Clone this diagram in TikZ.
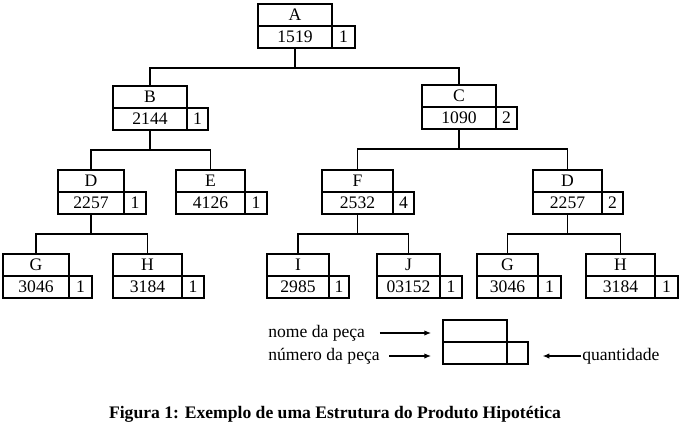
\documentclass[tikz,border=0pt]{standalone}
\usepackage{fontspec}
\setmainfont{Liberation Serif}
\usetikzlibrary{positioning,arrows.meta}

\begin{document}
\begin{tikzpicture}[x=0.75pt, y=-0.75pt, font=\fontsize{13.2}{15}\selectfont,
    cella/.style={draw, line width=0.8pt, inner sep=0pt, outer sep=0pt, minimum height=16.5pt},
    ramo/.style={line width=0.8pt},
    freccia/.style={-{Latex[length=5pt,width=4pt]}, line width=0.8pt}]
  \useasboundingbox (0,0) rectangle (680,428);

  % id / x / y / nome / numero / quantidade / largura / largura qt
  \foreach \id/\px/\py/\nome/\numero/\qt/\lw/\qw in {
      A/258/4/A/1519/1/74/23,
      B/113/86/B/2144/1/74/21,
      C/422/85/C/1090/2/74/21,
      D/58/170/D/2257/1/66/22,
      E/176/170/E/4126/1/69/22,
      F/322/170/F/2532/4/71/21,
      D2/533/170/D/2257/2/69/21,
      G/3/254/G/3046/1/66/23,
      H/113/254/H/3184/1/69/22,
      I/267/254/I/2985/1/62/20,
      J/377/254/J/03152/1/63/22,
      G2/477/254/G/3046/1/61/23,
      H2/586/254/H/3184/1/69/23,
      L/443/320/{}/{}/{}/64/21}
  {
    \node[cella, anchor=north west, minimum width=\lw*0.75pt] (\id) at (\px,\py) {\nome};
    \node[cella, minimum width=\lw*0.75pt, below=0pt of \id] (\id-n) {\numero};
    \node[cella, minimum width=\qw*0.75pt, right=0pt of \id-n] (\id-q) {\qt};
  }

  \foreach \p/\c in {A/B, A/C, B/D, B/E, C/F, C/D2, D/G, D/H, F/I, F/J, D2/G2, D2/H2}
    \draw[ramo] (\p-n.south) -- ++(0,20) -| (\c.north); % da pai a filho

  % legenda
  \node[anchor=west, inner sep=0pt] (tnome) at (268,333) {nome da peça};
  \node[anchor=west, inner sep=0pt] (tnum) at (268,356) {número da peça};
  \node[anchor=west, inner sep=0pt] (tqt) at (582,356) {quantidade};

  \draw[freccia, shorten <=11pt, shorten >=9pt] (tnome.east) -- (tnome.east -| L.west);
  \draw[freccia, shorten <=7pt, shorten >=9pt] (tnum.east) -- (tnum.east -| L-n.west);
  \draw[freccia, shorten <=1pt, shorten >=11pt] (tqt.west) -- (tqt.west -| L-q.east);

  \node[font=\fontsize{13.2}{15}\selectfont\bfseries] (titulo) at (335,414) {Figura 1: Exemplo de uma Estrutura do Produto Hipotética};
\end{tikzpicture}
\end{document}
